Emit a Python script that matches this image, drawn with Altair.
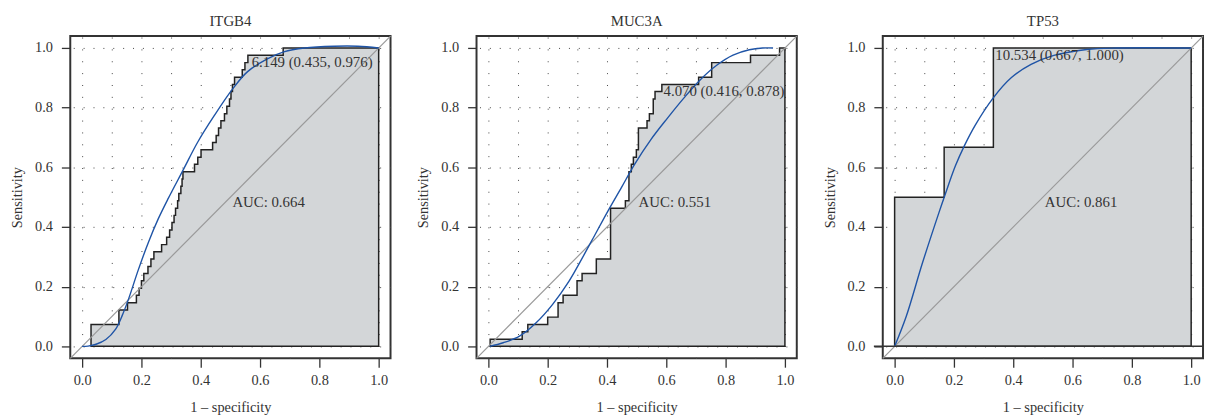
import altair as alt
import pandas as pd

FONT = "Liberation Serif"
INK = "#333333"
FILL = "#d3d6d8"
BLUE = "#1f54a6"

genes = ["ITGB4", "MUC3A", "TP53"]
auc_values = [0.664, 0.551, 0.861]
thresholds = [6.149, 4.070, 10.534]
thr_specificity = [0.435, 0.416, 0.667]
thr_sensitivity = [0.976, 0.878, 1.000]

# empirical ROC as steps: each 1 - specificity value and the sensitivity level after it
itgb4_fpr = [0.030, 0.124, 0.153, 0.183, 0.192, 0.200, 0.208, 0.222, 0.232, 0.242,
             0.268, 0.285, 0.295, 0.303, 0.310, 0.315, 0.322, 0.326, 0.333, 0.337,
             0.340, 0.379, 0.390, 0.401, 0.440, 0.452, 0.460, 0.468, 0.480, 0.488,
             0.497, 0.502, 0.507, 0.514, 0.540, 0.549, 0.559, 0.678, 1.000]
itgb4_tpr = [0.073, 0.122, 0.146, 0.171, 0.195, 0.220, 0.244, 0.268, 0.293, 0.317,
             0.341, 0.366, 0.390, 0.415, 0.439, 0.463, 0.488, 0.512, 0.537, 0.561,
             0.585, 0.610, 0.634, 0.659, 0.683, 0.707, 0.732, 0.756, 0.780, 0.805,
             0.829, 0.854, 0.878, 0.902, 0.927, 0.951, 0.976, 1.000, 1.000]

muc3a_fpr = [0.006, 0.114, 0.133, 0.200, 0.235, 0.252, 0.299, 0.316, 0.364, 0.412,
             0.462, 0.474, 0.482, 0.489, 0.499, 0.506, 0.535, 0.543, 0.556, 0.562,
             0.585, 0.709, 0.753, 0.884, 0.982, 1.000]
muc3a_tpr = [0.024, 0.049, 0.073, 0.098, 0.146, 0.171, 0.220, 0.244, 0.293, 0.463,
             0.488, 0.585, 0.610, 0.634, 0.659, 0.732, 0.756, 0.780, 0.829, 0.854,
             0.878, 0.902, 0.951, 0.976, 1.000, 1.000]

tp53_fpr = [0.000, 0.167, 0.333, 1.000]
tp53_tpr = [0.500, 0.667, 1.000, 1.000]

# smoothed ROC curves
itgb4_smooth_fpr = [0.0, 0.02, 0.047, 0.08, 0.113, 0.135, 0.157, 0.19, 0.224, 0.257, 0.29,
                    0.34, 0.39, 0.446, 0.507, 0.557, 0.623, 0.68, 0.75, 0.85, 0.93, 1.0]
itgb4_smooth_tpr = [0.0, 0.001, 0.007, 0.023, 0.058, 0.103, 0.16, 0.258, 0.35, 0.428, 0.495,
                    0.59, 0.685, 0.774, 0.862, 0.92, 0.963, 0.987, 1.0, 1.006, 1.006, 1.0]

muc3a_smooth_fpr = [0.005, 0.05, 0.105, 0.161, 0.216, 0.271, 0.316, 0.36, 0.404, 0.449,
                    0.493, 0.548, 0.604, 0.659, 0.714, 0.77, 0.825, 0.88, 0.925, 0.96]
muc3a_smooth_tpr = [0.0, 0.012, 0.034, 0.079, 0.14, 0.217, 0.295, 0.375, 0.455, 0.533,
                    0.61, 0.693, 0.765, 0.832, 0.893, 0.942, 0.976, 0.994, 1.0, 1.0]

tp53_smooth_fpr = [0.0, 0.039, 0.094, 0.15, 0.169, 0.205, 0.235, 0.271, 0.332, 0.393,
                   0.46, 0.537, 0.648, 0.75, 1.0]
tp53_smooth_tpr = [0.0, 0.10, 0.28, 0.45, 0.505, 0.605, 0.672, 0.74, 0.832, 0.9,
                   0.945, 0.975, 0.995, 1.0, 1.0]

x_ticks = [0.0, 0.2, 0.4, 0.6, 0.8, 1.0]
y_ticks = [0.0, 0.2, 0.4, 0.6, 0.8, 1.0]
x_grid = [0.0, 0.1, 0.2, 0.3, 0.4, 0.5, 0.6, 0.7, 0.8, 0.9, 1.0]
y_grid = [0.0, 0.2, 0.4, 0.6, 0.8, 1.0]

W, H = 324, 326
DOMAIN = [-0.04, 1.04]


def panel(i, fpr, tpr, sfpr, stpr, baseline=False):
    xs = alt.Scale(domain=DOMAIN, nice=False, zero=False)
    ys = alt.Scale(domain=DOMAIN, nice=False, zero=False)
    roc = pd.DataFrame({"fpr": fpr, "tpr": tpr})
    smooth = pd.DataFrame({"fpr": sfpr, "tpr": stpr, "k": list(range(len(sfpr)))})
    thr = pd.DataFrame({
        "fpr": [1 - thr_specificity[i]],
        "tpr": [thr_sensitivity[i]],
        "label": [f"{thresholds[i]:.3f} ({thr_specificity[i]:.3f}, {thr_sensitivity[i]:.3f})"],
    })
    aucdf = pd.DataFrame({"label": [f"AUC: {auc_values[i]:.3f}"]})

    main_x = alt.Axis(values=x_ticks, format=".1f", title="1 – specificity", grid=False,
                      domain=False, tickSize=9, tickColor=INK, tickWidth=1.3,
                      labelFont=FONT, labelFontSize=14.5, labelColor=INK, labelPadding=7,
                      labelFlush=False, titleFont=FONT, titleFontSize=14.5,
                      titleFontWeight="normal", titleColor=INK, titlePadding=13)
    main_y = alt.Axis(values=y_ticks, format=".1f", title="Sensitivity", grid=False,
                      domain=False, tickSize=9, tickColor=INK, tickWidth=1.3,
                      labelFont=FONT, labelFontSize=14.5, labelColor=INK, labelPadding=9,
                      labelFlush=False, titleFont=FONT, titleFontSize=14.5,
                      titleFontWeight="normal", titleColor=INK, titlePadding=10)
    grid_x = alt.Axis(orient="top", values=x_grid, grid=True, gridDash=[1, 11],
                      gridColor="#444444", gridWidth=1, ticks=False, labels=False,
                      domain=False, title=None)
    grid_y = alt.Axis(orient="right", values=y_grid, grid=True, gridDash=[1, 9],
                      gridColor="#444444", gridWidth=1, ticks=False, labels=False,
                      domain=False, title=None)

    area = alt.Chart(roc).mark_area(
        color=FILL, opacity=1, stroke="#222222", strokeWidth=1.5,
        interpolate="step-after"
    ).encode(
        x=alt.X("fpr:Q", scale=xs, axis=main_x),
        y=alt.Y("tpr:Q", scale=ys, axis=main_y, stack=None),
        y2=alt.datum(0),
    )

    diag = alt.Chart(aucdf).mark_rule(color="#999999", strokeWidth=1.2).encode(
        x=alt.value(0), x2=alt.value(W), y=alt.value(H), y2=alt.value(0)
    )

    curve = alt.Chart(smooth).mark_line(
        color=BLUE, strokeWidth=1.4, interpolate="catmull-rom"
    ).encode(
        x=alt.X("fpr:Q", scale=xs, axis=grid_x),
        y=alt.Y("tpr:Q", scale=ys, axis=grid_y),
        order=alt.Order("k:Q"),
    )

    thr_text = alt.Chart(thr).mark_text(
        align="left", baseline="top", dx=2, dy=0, font=FONT, fontSize=15, color=INK
    ).encode(
        x=alt.X("fpr:Q", scale=xs, axis=None),
        y=alt.Y("tpr:Q", scale=ys, axis=None),
        text="label:N",
    )

    auc_text = alt.Chart(aucdf).mark_text(
        align="left", baseline="top", dx=2, dy=-2, font=FONT, fontSize=15, color=INK
    ).encode(
        x=alt.XDatum(0.5, scale=xs, axis=None),
        y=alt.YDatum(0.5, scale=ys, axis=None),
        text="label:N",
    )

    layers = [area, diag, curve, thr_text, auc_text]
    if baseline:
        zero = alt.Chart(aucdf).mark_rule(color=INK, strokeWidth=1.5).encode(
            x=alt.value(-9), x2=alt.value(W),
            y=alt.YDatum(0, scale=ys, axis=None),
        )
        layers.append(zero)

    return alt.layer(*layers).resolve_axis(x="independent", y="independent").properties(
        width=W, height=H,
        title=alt.TitleParams(text=genes[i], font=FONT, fontSize=15, fontWeight="normal",
                              color=INK, offset=7),
    )


p1 = panel(0, itgb4_fpr, itgb4_tpr, itgb4_smooth_fpr, itgb4_smooth_tpr)
p2 = panel(1, muc3a_fpr, muc3a_tpr, muc3a_smooth_fpr, muc3a_smooth_tpr)
p3 = panel(2, tp53_fpr, tp53_tpr, tp53_smooth_fpr, tp53_smooth_tpr, baseline=True)

chart = alt.hconcat(p1, p2, p3, spacing=22).properties(
    padding={"left": 0, "top": 2, "right": 0, "bottom": 0}
).configure_view(stroke=INK, strokeWidth=2)

chart.save("out.html", embed_options={"renderer": "svg", "actions": False})
